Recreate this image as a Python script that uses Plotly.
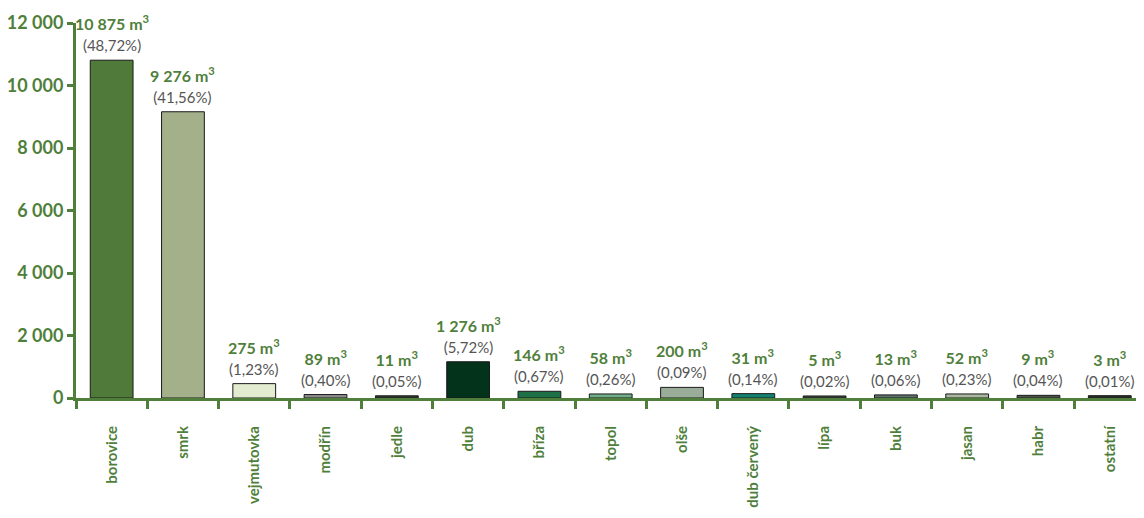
import plotly.graph_objects as go

GREEN = "#4f7f3b"
GREY_TEXT = "#555555"
FONT = "Lato, Liberation Sans, sans-serif"

species = [
    "borovice", "smrk", "vejmutovka", "modřín", "jedle", "dub", "bříza",
    "topol", "olše", "dub červený", "lípa", "buk", "jasan", "habr", "ostatní",
]
# bar heights as drawn in the picture
bar_height = [10810, 9160, 460, 110, 70, 1160, 215, 130, 340, 140, 65, 100, 130, 85, 75]
# labels printed above the bars
volume_label = [
    "10 875", "9 276", "275", "89", "11", "1 276", "146", "58", "200", "31",
    "5", "13", "52", "9", "3",
]
share_label = [
    "48,72", "41,56", "1,23", "0,40", "0,05", "5,72", "0,67", "0,26", "0,09",
    "0,14", "0,02", "0,06", "0,23", "0,04", "0,01",
]
bar_colors = [
    "#4f7a3a", "#a3b08a", "#e3ebd0", "#8c8c8c", "#2e3a2e", "#03331a", "#1e7046",
    "#6fae88", "#99ad98", "#138070", "#3c4a3c", "#5f7468", "#a9b79e", "#4c5648",
    "#2a2f2a",
]

fig = go.Figure()
fig.add_trace(go.Bar(
    x=species, y=bar_height, width=0.6,
    marker=dict(color=bar_colors, line=dict(color="#1a1a1a", width=1)),
    showlegend=False, hoverinfo="skip",
))

for sp, h, vol, pct in zip(species, bar_height, volume_label, share_label):
    fig.add_annotation(
        x=sp, y=h, yanchor="bottom", yshift=4, showarrow=False,
        text=(f"<b>{vol} m<sup>3</sup></b><br>"
              f"<span style='color:{GREY_TEXT};font-size:15px'>({pct}%)</span>"),
        font=dict(family=FONT, size=16, color=GREEN),
    )

fig.update_xaxes(
    range=[-0.5, 14.48], showgrid=False, zeroline=False, automargin=False,
    showline=True, linecolor=GREEN, linewidth=3,
    ticks="outside", tickson="boundaries", ticklen=8, tickwidth=3, tickcolor=GREEN,
    tickangle=-90, ticklabelstandoff=19,
    tickfont=dict(family=FONT, size=15, color=GREEN, weight="bold"),
)
fig.update_yaxes(
    range=[0, 12000], tickvals=[0, 2000, 4000, 6000, 8000, 10000, 12000],
    ticktext=["0", "2 000", "4 000", "6 000", "8 000", "10 000", "12 000"],
    showgrid=False, zeroline=False, automargin=False,
    showline=True, linecolor=GREEN, linewidth=3,
    ticks="outside", ticklen=6, tickwidth=3, tickcolor=GREEN,
    tickfont=dict(family=FONT, size=18, color=GREEN, weight="bold"),
)
# the page body adds an 8 px offset, so the figure is 8 px smaller
fig.update_layout(
    width=1136, height=510,
    margin=dict(l=68, r=0, t=15, b=120),
    plot_bgcolor="white", paper_bgcolor="white",
    font=dict(family=FONT),
)
fig.write_html("out.html")
